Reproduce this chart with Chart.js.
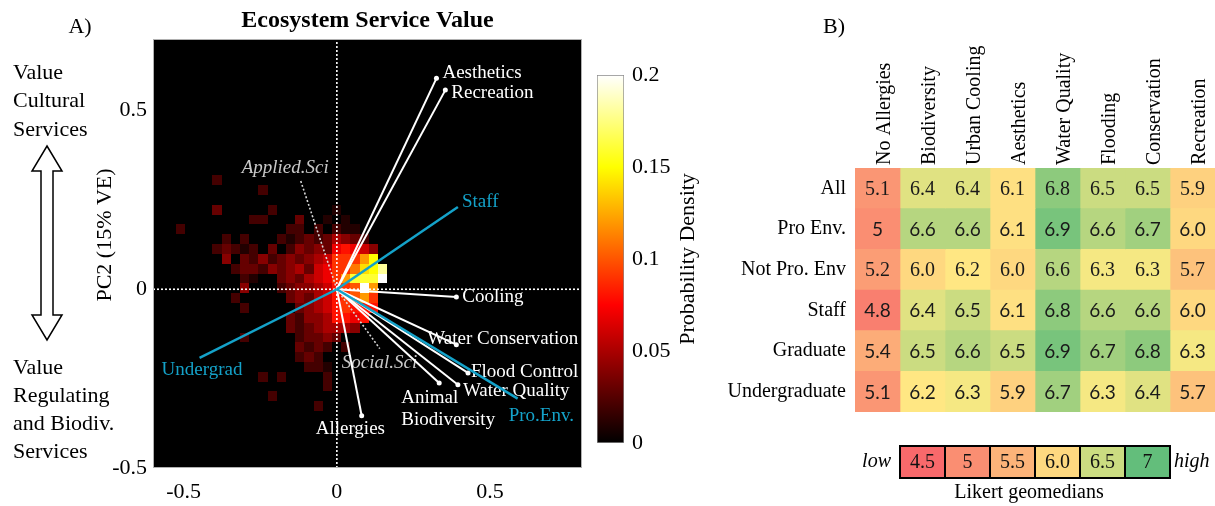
<!DOCTYPE html>
<html><head><meta charset="utf-8">
<script src="https://cdn.jsdelivr.net/npm/chart.js@4.4.1/dist/chart.umd.min.js"></script>
<style>
html,body{margin:0;padding:0;background:#fff;}
#wrap{position:relative;width:1215px;height:506px;overflow:hidden;background:#fff;}
canvas{position:absolute;top:0;}
</style></head><body>
<div id="wrap">
<canvas id="cA" style="left:0px;"></canvas>
<canvas id="cBar" style="left:590px;"></canvas>
<canvas id="cB" style="left:700px;"></canvas>
</div>
<script>
// ---------------- DATA ----------------
// Panel A: PCA biplot
const xRangeA = [-0.6, 0.8];
const yRangeA = [-0.5, 0.7];
const xTicksA = [-0.5, 0, 0.5];
const yTicksA = [-0.5, 0, 0.5];

const serviceNames = ['Aesthetics', 'Recreation', 'Cooling', 'Water Conservation', 'Flood Control', 'Water Quality', 'Animal\nBiodiversity', 'Allergies'];
const serviceX = [0.325, 0.354, 0.390, 0.390, 0.428, 0.395, 0.334, 0.081];
const serviceY = [0.590, 0.557, -0.022, -0.155, -0.234, -0.267, -0.262, -0.354];

const groupNames = ['Staff', 'Undergrad', 'Pro.Env.'];
const groupX = [0.395, -0.448, 0.590];
const groupY = [0.230, -0.192, -0.306];

const facultyNames = ['Applied.Sci', 'Social.Sci'];
const facultyX = [-0.118, 0.140];
const facultyY = [0.303, -0.166];

// 2-D histogram of scores (probability density, in hundredths), rows top -> bottom
const densityX0 = -0.526, densityDX = 0.03;   // left edge of first column, bin width
const densityY0 = -0.341, densityDY = 0.0275; // bottom edge of last row, bin height
const densityGrid = [
 [0,0,0,0,2,0,0,0,0,0,0,0,0,0,0,0,0,0,0,0,0,0,0],
 [0,0,0,0,0,0,0,0,0,2,0,0,0,0,0,0,0,0,0,0,0,0,0],
 [0,0,0,0,0,0,0,0,0,0,0,0,0,0,0,0,0,0,0,0,0,0,0],
 [0,0,0,0,3,0,0,0,0,0,2,0,0,0,0,0,0,1,0,0,0,0,0],
 [0,0,0,0,0,0,0,0,2,2,0,0,0,3,0,0,1,0,1,0,0,0,0],
 [2,0,0,0,0,0,0,0,0,0,0,0,2,2,0,2,0,2,1,1,0,0,0],
 [0,0,0,0,0,2,0,2,0,0,0,2,1,2,3,2,3,5,4,3,2,0,0],
 [0,0,0,0,2,3,2,1,2,0,3,0,2,4,3,4,3,7,8,7,6,4,0],
 [0,0,0,0,0,4,0,3,2,4,2,3,4,3,4,5,6,9,9,9,12,15,0],
 [0,0,0,0,0,0,2,3,3,2,4,3,4,5,3,6,7,9,9,11,14,15,18],
 [0,0,0,0,0,0,0,2,1,0,0,3,4,3,5,6,7,9,12,16,16,16,20],
 [0,0,0,0,0,0,0,4,0,0,0,2,3,4,4,5,6,8,9,10,20,12,0],
 [0,0,0,0,0,0,2,0,0,0,0,0,3,4,3,5,6,8,9,10,12,9,0],
 [0,0,0,0,0,0,0,2,0,0,0,0,0,3,4,5,6,8,9,8,8,8,0],
 [0,0,0,0,0,0,0,0,0,0,0,0,3,2,4,4,5,8,8,7,8,0,0],
 [0,0,0,0,0,0,0,0,0,0,0,0,3,2,3,4,5,5,5,4,0,0,0],
 [0,0,0,0,0,0,0,2,0,0,0,0,0,2,3,3,4,3,0,0,0,0,0],
 [0,0,0,0,0,0,0,0,0,0,0,0,0,3,2,3,2,0,2,0,0,0,0],
 [0,0,0,0,0,0,0,0,0,0,0,0,0,2,3,2,0,0,0,0,0,0,0],
 [0,0,0,0,0,0,0,0,0,0,0,0,0,0,2,2,1,0,0,0,0,0,0],
 [0,0,0,0,0,0,0,0,0,2,0,2,0,0,0,0,2,0,0,0,0,0,0],
 [0,0,0,0,0,0,0,0,0,0,0,0,0,0,0,0,2,0,0,0,0,0,0],
 [0,0,0,0,0,0,0,0,0,0,2,0,0,0,0,0,0,0,0,0,0,0,0],
 [0,0,0,0,0,0,0,0,0,0,0,0,0,0,0,2,0,0,0,0,0,0,0]
];
const densityMax = 0.2;
const colorbarTicks = [0, 0.05, 0.1, 0.15, 0.2];
const colorbarTickLabels = ['0', '0.05', '0.1', '0.15', '0.2'];

// Panel B: Likert geomedians table
const colLabels = ['No Allergies', 'Biodiversity', 'Urban Cooling', 'Aesthetics', 'Water Quality', 'Flooding', 'Conservation', 'Recreation'];
const rowLabels = ['All', 'Pro Env.', 'Not Pro. Env', 'Staff', 'Graduate', 'Undergraduate'];
const rowAll        = [5.1, 6.4, 6.4, 6.1, 6.8, 6.5, 6.5, 5.9];
const rowProEnv     = [5.0, 6.6, 6.6, 6.1, 6.9, 6.6, 6.7, 6.0];
const rowNotProEnv  = [5.2, 6.0, 6.2, 6.0, 6.6, 6.3, 6.3, 5.7];
const rowStaff      = [4.8, 6.4, 6.5, 6.1, 6.8, 6.6, 6.6, 6.0];
const rowGraduate   = [5.4, 6.5, 6.6, 6.5, 6.9, 6.7, 6.8, 6.3];
const rowUndergrad  = [5.1, 6.2, 6.3, 5.9, 6.7, 6.3, 6.4, 5.7];
const legendValues = [4.5, 5, 5.5, 6.0, 6.5, 7];
const legendLabels = ['4.5', '5', '5.5', '6.0', '6.5', '7'];

// ---------------- STYLE ----------------
const SERIF = '"Liberation Serif","Times New Roman",Times,serif';
const SANS = 'Lato,"Open Sans",sans-serif';
const BLUE = '#14a2c9';
const serviceLabelOffset = [[6,-5],[6,3],[6,0],[-29,-6],[3,-1],[5,6],[-38,15],[-46,13]];
const groupLabelOffset = [[4,-5],[-38,12],[-9,17]];
const facultyLabelOffset = [[-59,-13],[-38,14]];
const rowFontSans = [false, true, false, true, true, true];

function hot(t) {
  t = Math.max(0, Math.min(1, t));
  const r = Math.min(1, t / 0.375);
  const g = Math.max(0, Math.min(1, (t - 0.375) / 0.375));
  const b = Math.max(0, Math.min(1, (t - 0.75) / 0.25));
  return 'rgb(' + Math.round(r * 255) + ',' + Math.round(g * 255) + ',' + Math.round(b * 255) + ')';
}
const LOW = [248, 105, 107], MID = [255, 235, 132], HIGH = [99, 190, 123];
const likertMin = 4.5, likertMid = 6.25, likertMax = 7.0;
function likertColor(v) {
  let a, b, t;
  if (v <= likertMid) { a = LOW; b = MID; t = (v - likertMin) / (likertMid - likertMin); }
  else { a = MID; b = HIGH; t = (v - likertMid) / (likertMax - likertMid); }
  t = Math.max(0, Math.min(1, t));
  return 'rgb(' + a.map((c, i) => Math.round(c + (b[i] - c) * t)).join(',') + ')';
}
function fmtCell(v) { return (Number.isInteger(v) && v < 6) ? String(v) : v.toFixed(1); }

function setupCanvas(id, w, h) {
  const c = document.getElementById(id);
  c.width = w; c.height = h; c.style.width = w + 'px'; c.style.height = h + 'px';
  return c;
}

// ---------------- PANEL A ----------------
const datasetsA = [];
groupNames.forEach((n, i) => datasetsA.push({
  label: n, data: [{x: 0, y: 0}, {x: groupX[i], y: groupY[i]}], showLine: true,
  borderColor: BLUE, borderWidth: 2.5, pointRadius: 0
}));
serviceNames.forEach((n, i) => datasetsA.push({
  label: n, data: [{x: 0, y: 0}, {x: serviceX[i], y: serviceY[i]}], showLine: true,
  borderColor: '#ffffff', borderWidth: 2, pointRadius: [0, 2.5], pointBackgroundColor: '#ffffff', pointBorderWidth: 0
}));
facultyNames.forEach((n, i) => datasetsA.push({
  label: n, data: [{x: 0, y: 0}, {x: facultyX[i], y: facultyY[i]}], showLine: true,
  borderColor: '#d8d8d8', borderWidth: 1.6, borderDash: [2, 2], pointRadius: 0
}));
datasetsA.push({label: 'x0', data: [{x: 0, y: yRangeA[0]}, {x: 0, y: yRangeA[1]}], showLine: true,
  borderColor: '#ffffff', borderWidth: 1.6, borderDash: [2, 2], pointRadius: 0});
datasetsA.push({label: 'y0', data: [{x: xRangeA[0], y: 0}, {x: xRangeA[1], y: 0}], showLine: true,
  borderColor: '#ffffff', borderWidth: 1.6, borderDash: [2, 2], pointRadius: 0});

const heatPlugin = {
  id: 'heat',
  beforeDatasetsDraw(chart) {
    const {ctx, chartArea: a, scales: {x, y}} = chart;
    ctx.save();
    ctx.fillStyle = '#000';
    ctx.fillRect(a.left, a.top, a.width, a.height);
    const nRows = densityGrid.length;
    densityGrid.forEach((row, ri) => {
      const j = nRows - 1 - ri;
      const y0 = densityY0 + j * densityDY;
      row.forEach((v, c) => {
        if (!v) return;
        const x0 = densityX0 + c * densityDX;
        const px0 = Math.round(x.getPixelForValue(x0)), px1 = Math.round(x.getPixelForValue(x0 + densityDX));
        const py0 = Math.round(y.getPixelForValue(y0 + densityDY)), py1 = Math.round(y.getPixelForValue(y0));
        ctx.fillStyle = hot(v / 100 / densityMax);
        ctx.fillRect(px0, py0, px1 - px0, py1 - py0);
      });
    });
    // labels (drawn under the vectors)
    ctx.textBaseline = 'middle';
    ctx.textAlign = 'left';
    const put = (names, xs, ys, offs, color, italic) => {
      ctx.fillStyle = color;
      ctx.font = (italic ? 'italic ' : '') + '19px ' + SERIF;
      names.forEach((n, i) => {
        const px = x.getPixelForValue(xs[i]) + offs[i][0];
        const py = y.getPixelForValue(ys[i]) + offs[i][1];
        n.split('\n').forEach((line, k) => ctx.fillText(line, px, py + k * 22));
      });
    };
    put(serviceNames, serviceX, serviceY, serviceLabelOffset, '#ffffff', false);
    put(groupNames, groupX, groupY, groupLabelOffset, BLUE, false);
    put(facultyNames, facultyX, facultyY, facultyLabelOffset, '#c8c8c8', true);
    ctx.restore();
  },
  afterDraw(chart) {
    const {ctx, chartArea: a} = chart;
    ctx.save();
    ctx.strokeStyle = '#b0b0b0'; ctx.lineWidth = 1;
    ctx.strokeRect(a.left + 0.5, a.top + 0.5, a.width - 1, a.height - 1);
    ctx.fillStyle = '#000';
    ctx.textBaseline = 'middle';
    ctx.textAlign = 'center';
    ctx.font = 'bold 24px ' + SERIF;
    ctx.fillText('Ecosystem Service Value', (a.left + a.right) / 2, 21);
    ctx.font = '22px ' + SERIF;
    ctx.fillText('A)', 80, 27);
    ctx.textAlign = 'left';
    ['Value', 'Cultural', 'Services'].forEach((t, i) => ctx.fillText(t, 13, 73 + i * 28.5));
    ['Value', 'Regulating', 'and Biodiv.', 'Services'].forEach((t, i) => ctx.fillText(t, 13, 368 + i * 28));
    ctx.save();
    ctx.translate(105, 235); ctx.rotate(-Math.PI / 2);
    ctx.textAlign = 'center';
    ctx.fillText('PC2 (15% VE)', 0, 0);
    ctx.restore();
    // hollow double arrow
    const cx = 47, top = 146, bot = 340, hw = 15, sw = 6, hh = 25;
    ctx.beginPath();
    ctx.moveTo(cx, top);
    ctx.lineTo(cx + hw, top + hh); ctx.lineTo(cx + sw, top + hh);
    ctx.lineTo(cx + sw, bot - hh); ctx.lineTo(cx + hw, bot - hh);
    ctx.lineTo(cx, bot);
    ctx.lineTo(cx - hw, bot - hh); ctx.lineTo(cx - sw, bot - hh);
    ctx.lineTo(cx - sw, top + hh); ctx.lineTo(cx - hw, top + hh);
    ctx.closePath();
    ctx.fillStyle = '#fff'; ctx.fill();
    ctx.strokeStyle = '#000'; ctx.lineWidth = 1.5; ctx.stroke();
    ctx.restore();
  }
};

new Chart(setupCanvas('cA', 590, 506), {
  type: 'scatter',
  data: {datasets: datasetsA},
  options: {
    responsive: false, animation: false, devicePixelRatio: 1,
    layout: {padding: {left: 0, right: 8, top: 39, bottom: 0}},
    plugins: {legend: {display: false}, tooltip: {enabled: false}, title: {display: false}},
    scales: {
      x: {
        type: 'linear', min: xRangeA[0], max: xRangeA[1],
        afterBuildTicks: s => { s.ticks = xTicksA.map(v => ({value: v})); },
        afterFit: s => { s.height = 38; },
        grid: {display: false, drawTicks: false}, border: {display: false},
        ticks: {padding: 11, color: '#000', font: {family: SERIF, size: 22}, callback: v => String(v), maxRotation: 0}
      },
      y: {
        type: 'linear', min: yRangeA[0], max: yRangeA[1],
        afterBuildTicks: s => { s.ticks = yTicksA.map(v => ({value: v})); },
        afterFit: s => { s.width = 153; },
        grid: {display: false, drawTicks: false}, border: {display: false},
        ticks: {padding: 6, color: '#000', font: {family: SERIF, size: 22}, callback: v => String(v)}
      }
    }
  },
  plugins: [heatPlugin]
});

// ---------------- COLORBAR ----------------
const cbPlugin = {
  id: 'cbTitle',
  afterDraw(chart) {
    const {ctx, chartArea: a} = chart;
    ctx.save();
    ctx.fillStyle = '#000';
    ctx.font = '22px ' + SERIF;
    ctx.textAlign = 'center'; ctx.textBaseline = 'middle';
    ctx.translate(98, (a.top + a.bottom) / 2); ctx.rotate(-Math.PI / 2);
    ctx.fillText('Probability Density', 0, 0);
    ctx.restore();
  }
};
new Chart(setupCanvas('cBar', 130, 506), {
  type: 'bar',
  data: {labels: [''], datasets: [{
    data: [[0, densityMax]],
    backgroundColor: (c) => {
      const ch = c.chart, a = ch.chartArea;
      if (!a) return '#000';
      const g = ch.ctx.createLinearGradient(0, a.bottom, 0, a.top);
      g.addColorStop(0, hot(0)); g.addColorStop(0.375, hot(0.375));
      g.addColorStop(0.75, hot(0.75)); g.addColorStop(1, hot(1));
      return g;
    },
    borderColor: '#8a8a8a', borderWidth: 1, borderSkipped: false,
    barPercentage: 1, categoryPercentage: 1
  }]},
  options: {
    responsive: false, animation: false, devicePixelRatio: 1,
    layout: {padding: {left: 7, right: 0, top: 75, bottom: 63}},
    plugins: {legend: {display: false}, tooltip: {enabled: false}},
    scales: {
      x: {display: false},
      y: {
        position: 'right', min: 0, max: densityMax,
        afterBuildTicks: s => { s.ticks = colorbarTicks.map(v => ({value: v})); },
        afterFit: s => { s.width = 96; },
        grid: {display: false, drawTicks: false}, border: {display: false},
        ticks: {padding: 8, color: '#000', font: {family: SERIF, size: 22},
          callback: (v) => colorbarTickLabels[colorbarTicks.indexOf(v)]}
      }
    }
  },
  plugins: [cbPlugin]
});

// ---------------- PANEL B ----------------
const tableRows = [rowAll, rowProEnv, rowNotProEnv, rowStaff, rowGraduate, rowUndergrad];
const datasetsB = colLabels.map((name, c) => ({
  label: name,
  data: tableRows.map(() => [c, c + 1]),
  backgroundColor: tableRows.map(r => likertColor(r[c])),
  borderWidth: 0, grouped: false, barPercentage: 1, categoryPercentage: 1
}));
const tablePlugin = {
  id: 'tableText',
  afterDatasetsDraw(chart) {
    const {ctx} = chart;
    ctx.save();
    ctx.textAlign = 'center'; ctx.textBaseline = 'middle'; ctx.fillStyle = '#1a1a1a';
    chart.data.datasets.forEach((ds, c) => {
      chart.getDatasetMeta(c).data.forEach((el, r) => {
        const p = el.getCenterPoint();
        ctx.font = rowFontSans[r] ? '19px ' + SANS : '20px ' + SERIF;
        ctx.fillText(fmtCell(tableRows[r][c]), p.x, p.y + 1);
      });
    });
    ctx.restore();
  },
  afterDraw(chart) {
    const {ctx, scales: {x}} = chart;
    ctx.save();
    ctx.fillStyle = '#000'; ctx.textBaseline = 'middle'; ctx.textAlign = 'center';
    ctx.font = '22px ' + SERIF;
    ctx.fillText('B)', 134, 27);
    // colour legend
    const top = 446, h = 32;
    legendValues.forEach((v, i) => {
      const l = x.getPixelForValue(i + 1), r = x.getPixelForValue(i + 2);
      ctx.fillStyle = likertColor(v);
      ctx.fillRect(l, top, r - l, h);
      ctx.fillStyle = '#111';
      ctx.font = '20px ' + SERIF;
      ctx.fillText(legendLabels[i], (l + r) / 2, top + h / 2 + 1);
    });
    ctx.strokeStyle = '#000'; ctx.lineWidth = 2;
    legendValues.forEach((v, i) => {
      const l = x.getPixelForValue(i + 1), r = x.getPixelForValue(i + 2);
      ctx.strokeRect(l, top, r - l, h);
    });
    const L = x.getPixelForValue(1), R = x.getPixelForValue(legendValues.length + 1);
    ctx.fillStyle = '#000';
    ctx.font = 'italic 20px ' + SERIF;
    ctx.textAlign = 'right'; ctx.fillText('low', L - 9, top + h / 2);
    ctx.textAlign = 'left'; ctx.fillText('high', R + 4, top + h / 2);
    ctx.textAlign = 'center'; ctx.font = '20px ' + SERIF;
    ctx.fillText('Likert geomedians', (L + R) / 2 - 6, 493);
    ctx.restore();
  }
};
new Chart(setupCanvas('cB', 515, 506), {
  type: 'bar',
  data: {labels: rowLabels, datasets: datasetsB},
  options: {
    indexAxis: 'y',
    responsive: false, animation: false, devicePixelRatio: 1,
    layout: {padding: {left: 0, right: 0, top: 0, bottom: 94}},
    plugins: {legend: {display: false}, tooltip: {enabled: false}},
    scales: {
      x: {type: 'linear', min: 0, max: colLabels.length, display: false},
      xh: {
        type: 'category', axis: 'x', position: 'top', labels: colLabels, offset: true,
        afterFit: s => { s.height = 168; },
        grid: {display: false, drawTicks: false}, border: {display: false},
        ticks: {minRotation: 90, maxRotation: 90, autoSkip: false, padding: 3, labelOffset: 31,
          color: '#000', font: {family: SERIF, size: 20}}
      },
      y: {
        type: 'category', position: 'left', offset: true,
        afterFit: s => { s.width = 155; },
        grid: {display: false, drawTicks: false}, border: {display: false},
        ticks: {padding: 9, color: '#000', font: {family: SERIF, size: 20}}
      }
    }
  },
  plugins: [tablePlugin]
});
</script>
</body></html>
